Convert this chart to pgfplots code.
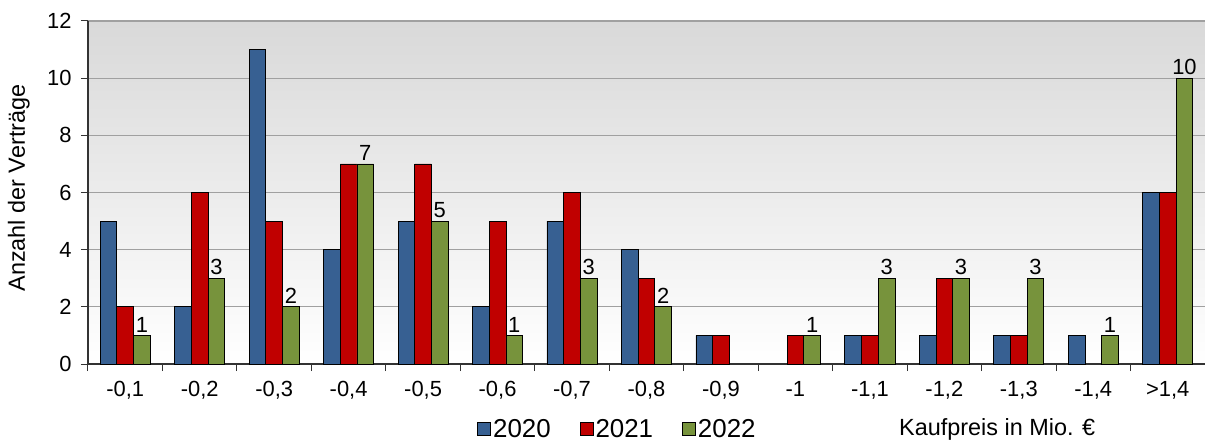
\documentclass[border=0pt]{standalone}
\usepackage{pgfplots}
\pgfplotsset{compat=1.18}
\usepackage{fontspec}
\setmainfont{Liberation Sans}
\definecolor{cA}{HTML}{376092}
\definecolor{cB}{HTML}{C00000}
\definecolor{cC}{HTML}{77933C}
\definecolor{gridc}{HTML}{A0A0A0}
\begin{document}
\begin{tikzpicture}
\path[use as bounding box] (-88bp,-78bp) rectangle (1117bp,364bp);
\begin{axis}[
  at={(0,0)}, anchor=south west,
  scale only axis, width=1117bp, height=343bp,
  font=\fontsize{22}{26}\selectfont,
  /pgf/number format/assume math mode=true,
  ybar=0pt, bar width=16.7bp,
  xmin=-0.5, xmax=14.5, ymin=0, ymax=12,
  ytick={0,2,...,12},
  xtick={0,...,14},
  xticklabels={-0{,}1,-0{,}2,-0{,}3,-0{,}4,-0{,}5,-0{,}6,-0{,}7,-0{,}8,-0{,}9,-1,-1{,}1,-1{,}2,-1{,}3,-1{,}4,>1{,}4},
  minor xtick={-0.5,0.5,...,14.5},
  major x tick style={draw=none},
  minor x tick style={draw=black!80, line width=1pt},
  ytick style={draw=black!80, line width=1pt},
  tick align=outside, major tick length=7bp, minor tick length=7bp,
  axis x line*=bottom, axis y line*=left,
  axis line style={draw=black!80, line width=1.2pt, -},
  ymajorgrids, grid style={gridc, line width=1.3pt},
  axis background/.style={top color=black!15, bottom color=white},
  xticklabel style={yshift=-7bp},
  yticklabel style={xshift=-6bp},
  ylabel={Anzahl der Verträge},
  ylabel style={at={(axis description cs:-0.062,0.513)}, anchor=center, font=\fontsize{23.5}{28}\selectfont},
  xlabel={Kaufpreis in Mio. €},
  xlabel style={at={(axis description cs:0.814,-0.19)}, anchor=center, font=\fontsize{23.5}{28}\selectfont},
  legend style={at={(axis description cs:0.474,-0.19)}, anchor=center, draw=none, fill=none,
    legend columns=3, /tikz/every even column/.append style={column sep=27bp},
    font=\fontsize{26}{30}\selectfont, nodes={inner sep=2bp}},
  legend image code/.code={\draw[#1, draw=black, line width=0.8pt] (0bp,-6.5bp) rectangle (13bp,6.5bp);},
]
\addplot[fill=cA, draw=black, line width=0.8pt] coordinates {
(0,5) (1,2) (2,11) (3,4) (4,5) (5,2) (6,5) (7,4) (8,1) (10,1) (11,1) (12,1) (13,1) (14,6)};
\addplot[fill=cB, draw=black, line width=0.8pt] coordinates {
(0,2) (1,6) (2,5) (3,7) (4,7) (5,5) (6,6) (7,3) (8,1) (9,1) (10,1) (11,3) (12,1) (14,6)};
\addplot[fill=cC, draw=black, line width=0.8pt,
  nodes near coords, nodes near coords style={black, font=\fontsize{22}{26}\selectfont, anchor=south, inner sep=3bp}] coordinates {
(0,1) (1,3) (2,2) (3,7) (4,5) (5,1) (6,3) (7,2) (9,1) (10,3) (11,3) (12,3) (13,1) (14,10)};
\legend{2020,2021,2022}
\end{axis}
\end{tikzpicture}
\end{document}
